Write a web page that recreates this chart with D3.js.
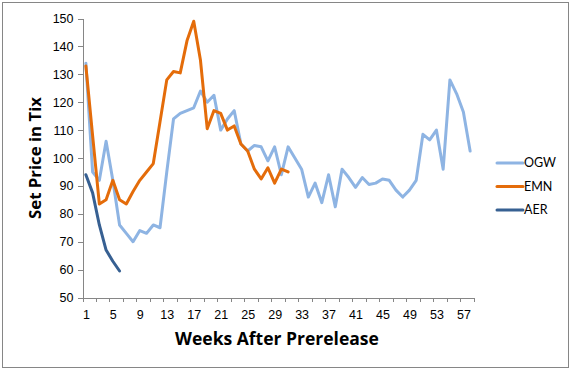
<!DOCTYPE html>
<html lang="en">
  <head>
    <meta charset="UTF-8">
    <title>Set Price in Tix</title>
    <script src="https://d3js.org/d3.v7.min.js"></script>
    <style>
      body {
        margin: 0;
        padding: 0;
        background-color: #fff;
      }

      svg {
        display: block;
        font-family: 'Lato', 'Liberation Sans', sans-serif;
      }

      .axis path,
      .axis line {
        fill: none;
        stroke: #868686;
        shape-rendering: crispEdges;
      }

      .axis text {
        font-size: 12.5px;
        fill: #000;
      }

      .axis-title {
        font-family: 'Open Sans', sans-serif;
        font-weight: bold;
        font-size: 17.5px;
      }

      .axis-title.y-title {
        font-size: 16.8px;
      }

      .legend text {
        font-size: 12.5px;
      }
    </style>
  </head>
  <body>
    <script>
      // weekly set prices (weeks start at 1)
      const ogw = [134, 95, 92, 106, 92, 76, 73, 70, 74, 73, 76, 75, 95, 114, 116, 117, 118, 124,
        120, 122.5, 110, 114, 117, 105, 102.5, 104.5, 104, 99, 104, 94, 104, 100, 96, 86, 91, 84,
        94, 82.5, 96, 93, 89.5, 93, 90.5, 91, 92.5, 92, 88.5, 86, 88.5, 92, 108.5, 106.5, 110, 96,
        128, 123, 116.5, 102.5];
      const emn = [133, 108, 83.5, 85, 92, 85, 83.5, 88, 92, 95, 98, 113, 128, 131, 130.5, 142, 149, 135,
        110.5, 117, 116, 110, 111.5, 105, 102.5, 96, 92.5, 96.5, 91, 96, 95];
      const aer = [94, 87.5, 76, 67, 63, 59.5];

      const seriesNames = ["OGW", "EMN", "AER"];
      const seriesColors = ["#8eb4e3", "#e46c0a", "#376092"];
      const yTicks = [50, 60, 70, 80, 90, 100, 110, 120, 130, 140, 150];
      const weekLabels = d3.range(1, 58, 4);
      const weekCount = 58;

      const width = 572, height = 372;
      const svg = d3.select("body").append("svg").attr("width", width).attr("height", height);

      svg.append("rect").attr("x", 2.5).attr("y", 2.5).attr("width", 566).attr("height", 365)
        .attr("fill", "#fff").attr("stroke", "#868686").attr("stroke-width", 1);

      const x = d3.scaleLinear().domain([0.5, weekCount + 0.5]).range([82.5, 473.5]);
      const y = d3.scaleLinear().domain([50, 150]).range([297.5, 18.5]);

      // y axis
      svg.append("g").attr("class", "axis").attr("transform", "translate(82.5,0)")
        .call(d3.axisLeft(y).tickValues(yTicks).tickSize(5).tickSizeOuter(0).tickPadding(4));

      // x axis: tick marks between every second category, labels every fourth week
      svg.append("g").attr("class", "axis").attr("transform", "translate(0,297.5)")
        .call(d3.axisBottom(x).tickValues(d3.range(0.5, weekCount + 1, 2)).tickFormat("").tickSize(4).tickSizeOuter(0));
      svg.append("g").attr("class", "axis labels").attr("transform", "translate(0,297.5)")
        .call(d3.axisBottom(x).tickValues(weekLabels).tickFormat(d3.format("d")).tickSize(0).tickPadding(13))
        .call(g => g.select(".domain").remove());

      svg.append("text").attr("class", "axis-title").attr("text-anchor", "middle")
        .attr("x", 277).attr("y", 345).text("Weeks After Prerelease");
      svg.append("text").attr("class", "axis-title y-title").attr("text-anchor", "middle")
        .attr("transform", "translate(41,158) rotate(-90)").text("Set Price in Tix");

      const line = d3.line().x((d, i) => x(i + 1)).y(d => y(d));
      [ogw, emn, aer].forEach((values, k) => {
        svg.append("path").datum(values).attr("d", line)
          .attr("fill", "none").attr("stroke", seriesColors[k]).attr("stroke-width", 3)
          .attr("stroke-linejoin", "round").attr("stroke-linecap", "round");
      });

      const legend = svg.append("g").attr("class", "legend");
      seriesNames.forEach((name, k) => {
        const ly = 163 + k * 23.5;
        legend.append("line").attr("x1", 497).attr("x2", 523).attr("y1", ly).attr("y2", ly)
          .attr("stroke", seriesColors[k]).attr("stroke-width", 3).attr("stroke-linecap", "round");
        legend.append("text").attr("x", 524).attr("y", ly).attr("dy", "0.35em").text(name);
      });
    </script>
  </body>
</html>
